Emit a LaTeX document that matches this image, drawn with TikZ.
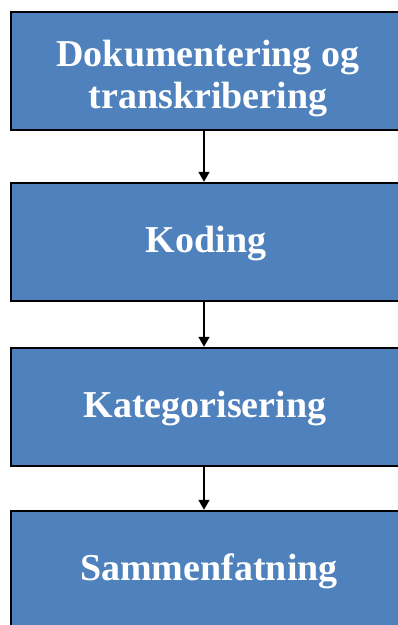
\documentclass[tikz,border=0pt]{standalone}
\usepackage{fontspec}
\setmainfont{Liberation Serif}
\usetikzlibrary{arrows.meta}
\definecolor{boxblue}{RGB}{79,129,189}
\begin{document}
\begin{tikzpicture}[x=1pt,y=-1pt,
  stepbox/.style={draw=black,line width=2.5pt,fill=boxblue,
    minimum width=394pt,minimum height=118pt,inner sep=0pt},
  steptext/.style={text=white,font=\bfseries\fontsize{38}{42}\selectfont,
    align=center,inner sep=0pt},
  conn/.style={draw=black,line width=1.8pt,-{Triangle[length=10pt,width=11pt]}}]
\useasboundingbox (0,0) rectangle (398,625);
\node[stepbox] (b1) at (208,71) {};
\node[stepbox] (b2) at (208,242) {};
\node[stepbox] (b3) at (208,407) {};
\node[stepbox] (b4) at (208,570) {};
\node[steptext] (t1) at (208,79) {Dokumentering og\\transkribering};
\node[steptext] (t2) at (206,244) {Koding};
\node[steptext] (t3) at (205,409) {Kategorisering};
\node[steptext] (t4) at (209,571) {Sammenfatning};
\draw[conn] (b1.south -| 204,0) -- (b2.north -| 204,0);
\draw[conn] (b2.south -| 204,0) -- (b3.north -| 204,0);
\draw[conn] (b3.south -| 204,0) -- (b4.north -| 204,0);
\end{tikzpicture}
\end{document}
